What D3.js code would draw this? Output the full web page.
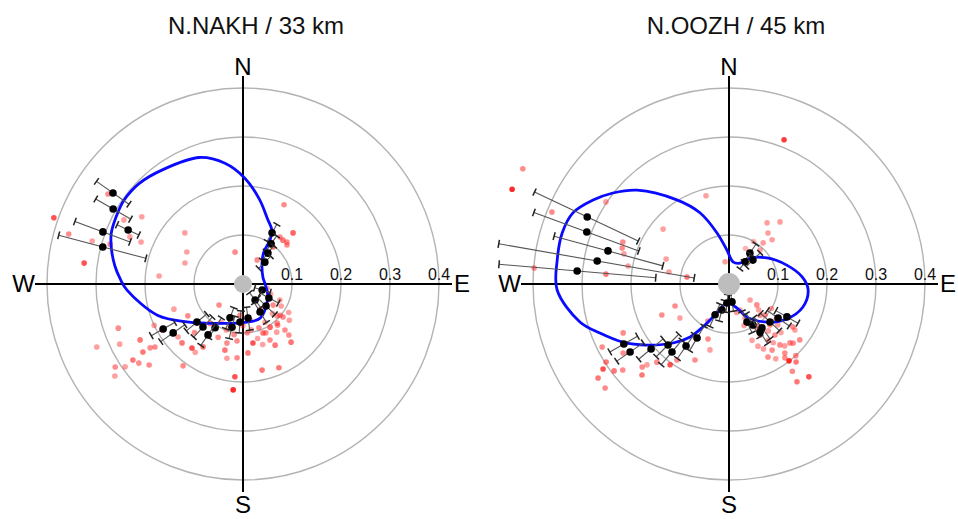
<!DOCTYPE html>
<html>
<head>
<meta charset="utf-8">
<script src="https://cdn.jsdelivr.net/npm/d3@7"></script>
<style>
  body { margin: 0; background: #fff; }
  svg { display: block; font-family: "Liberation Sans", Arial, sans-serif; }
</style>
</head>
<body>
<script>
// ---- data -------------------------------------------------------------
// amplitude rings and compass directions
const ringTicks = [0.1, 0.2, 0.3, 0.4];
const compass = [["N", 0], ["E", 90], ["S", 180], ["W", 270]];
const stationTitles = ["N.NAKH / 33 km", "N.OOZH / 45 km"];

// fitted radiation pattern: [azimuth (deg), amplitude]
const nakhCurve = [
  [1, 0.216], [11, 0.176], [21, 0.141], [28, 0.125], [31.5, 0.106], [33, 0.078],
  [42, 0.058], [71, 0.043], [90, 0.045], [117, 0.057], [153, 0.078], [174, 0.078],
  [207, 0.090], [236, 0.138], [250, 0.186], [267, 0.237], [272, 0.250], [278, 0.264],
  [285, 0.278], [291, 0.288], [298, 0.293], [305, 0.297], [314, 0.295], [325, 0.285],
  [341, 0.273], [351.5, 0.249]
];
const oozhCurve = [
  [10.3, 0.046], [27.6, 0.048], [38.9, 0.068], [55.6, 0.094], [71.9, 0.124],
  [84.5, 0.150], [94.3, 0.162], [107.3, 0.158], [121.1, 0.138], [135, 0.110],
  [151.4, 0.077], [161.6, 0.052], [186, 0.039], [202.5, 0.064], [211.2, 0.102],
  [216.3, 0.134], [223.5, 0.166], [233.4, 0.209], [241.3, 0.247], [249.2, 0.282],
  [255.7, 0.314], [268, 0.351], [278, 0.354], [287, 0.356], [294.5, 0.350],
  [301.7, 0.326], [308.1, 0.301], [315.6, 0.268], [328.2, 0.202], [337.8, 0.157],
  [346.8, 0.107], [356.6, 0.069]
];

// binned measurements with uncertainty: [azimuth, amplitude, low, high]
const nakhBins = [
  [305, 0.324, 0.284, 0.365], [300, 0.306, 0.265, 0.347], [295.2, 0.259, 0.235, 0.284],
  [290.4, 0.305, 0.246, 0.366], [284.8, 0.296, 0.205, 0.389],
  [29.6, 0.120, 0.100, 0.140], [35, 0.100, 0.082, 0.120], [38.9, 0.081, 0.062, 0.100],
  [45, 0.063, 0.045, 0.080], [107.5, 0.041, 0.025, 0.058], [118.3, 0.060, 0.040, 0.082],
  [133.7, 0.065, 0.042, 0.090], [143, 0.041, 0.022, 0.060], [148.7, 0.067, 0.045, 0.092],
  [171.6, 0.070, 0.048, 0.095], [184.5, 0.078, 0.055, 0.100], [194.3, 0.091, 0.068, 0.115],
  [201, 0.074, 0.052, 0.098], [212.5, 0.106, 0.082, 0.130], [214.5, 0.126, 0.100, 0.152],
  [222.9, 0.120, 0.092, 0.148], [230.4, 0.122, 0.096, 0.150], [235, 0.174, 0.145, 0.205],
  [240.6, 0.187, 0.160, 0.215]
];
const oozhBins = [
  [295.3, 0.320, 0.205, 0.439], [290.1, 0.309, 0.196, 0.424], [285.3, 0.256, 0.140, 0.370],
  [279.9, 0.273, 0.072, 0.477], [274.9, 0.311, 0.150, 0.471],
  [240.3, 0.247, 0.215, 0.280], [235.5, 0.245, 0.212, 0.278], [230.2, 0.207, 0.175, 0.240],
  [225, 0.176, 0.145, 0.210], [220, 0.181, 0.150, 0.215], [214.7, 0.154, 0.125, 0.185],
  [210.6, 0.128, 0.100, 0.158], [204.3, 0.069, 0.045, 0.095], [195.1, 0.055, 0.035, 0.078],
  [186, 0.039, 0.022, 0.058], [170.5, 0.037, 0.020, 0.056], [154.7, 0.086, 0.062, 0.110],
  [149.7, 0.097, 0.070, 0.125], [147.1, 0.117, 0.090, 0.145], [143.1, 0.112, 0.085, 0.140],
  [132.8, 0.114, 0.088, 0.140], [124.8, 0.122, 0.095, 0.150], [119.6, 0.136, 0.110, 0.162],
  [34.1, 0.076, 0.055, 0.098], [36, 0.056, 0.038, 0.075], [45, 0.069, 0.050, 0.090]
];

// individual observations: [azimuth, amplitude, weight]
const nakhObs = [
  [289.3, 0.409, 0.8], [303.7, 0.331, 0.5], [298.3, 0.276, 0.4], [303.6, 0.248, 0.4],
  [286, 0.370, 0.5], [285.9, 0.320, 0.4], [292.6, 0.250, 0.4], [292.4, 0.225, 0.4],
  [286.7, 0.283, 0.5], [277.5, 0.327, 0.8], [311.3, 0.158, 0.4], [299.7, 0.132, 0.4],
  [289.9, 0.126, 0.4], [275.4, 0.172, 0.4], [346, 0.067, 0.5], [27.4, 0.182, 0.5],
  [44.4, 0.146, 0.7], [46.3, 0.124, 0.5], [38.2, 0.122, 0.5], [30.3, 0.057, 0.5],
  [39, 0.097, 0.6], [42.3, 0.121, 0.6], [48.4, 0.120, 0.5],
  [246.7, 0.325, 0.4], [241.5, 0.239, 0.6], [235.8, 0.247, 0.6], [235.5, 0.230, 0.5],
  [235.4, 0.273, 0.6], [232.8, 0.267, 0.5], [237, 0.311, 0.5], [234.9, 0.294, 0.4],
  [234.3, 0.322, 0.4], [229.2, 0.253, 0.5], [234.4, 0.221, 0.5], [226, 0.173, 0.6],
  [216.2, 0.207, 0.5], [218.6, 0.167, 0.8], [212.4, 0.152, 0.6], [230.8, 0.171, 0.4],
  [228.8, 0.065, 0.5], [195.2, 0.125, 0.5], [195.3, 0.140, 0.6], [186, 0.117, 0.5],
  [170.4, 0.122, 0.8], [175.9, 0.141, 0.6], [184.6, 0.151, 0.5], [192.2, 0.155, 0.4],
  [167.5, 0.180, 0.6], [156.8, 0.186, 0.6], [185, 0.190, 0.8], [185.3, 0.217, 1.0],
  [152.3, 0.141, 0.6], [147.9, 0.104, 0.7], [138.9, 0.106, 0.5], [129.5, 0.106, 0.5],
  [157.8, 0.108, 0.6], [240.4, 0.190, 0.5], [143, 0.041, 0.4], [146.8, 0.063, 0.5],
  [169, 0.075, 0.5], [185.5, 0.064, 0.5], [197.6, 0.088, 0.5], [113.4, 0.082, 0.4],
  [137.6, 0.127, 0.5], [154.3, 0.127, 0.5], [140.4, 0.154, 0.6], [130, 0.099, 0.5],
  [120, 0.090, 0.4], [125, 0.075, 0.5], [135, 0.085, 0.4], [140, 0.110, 0.5],
  [150, 0.090, 0.4], [160, 0.095, 0.5], [165, 0.115, 0.4], [175, 0.100, 0.5],
  [180, 0.085, 0.4], [190, 0.105, 0.5], [200, 0.100, 0.4], [205, 0.120, 0.5],
  [210, 0.090, 0.4], [220, 0.105, 0.5], [225, 0.140, 0.5], [245, 0.200, 0.4],
  [250, 0.150, 0.4], [215, 0.170, 0.4], [240, 0.130, 0.5], [110, 0.060, 0.4],
  [100, 0.050, 0.4], [250.5, 0.270, 0.5], [244, 0.280, 0.4],
  [128, 0.120, 0.4], [133, 0.095, 0.5], [145, 0.120, 0.4], [155, 0.110, 0.5],
  [162, 0.130, 0.4], [170, 0.095, 0.4], [122, 0.110, 0.4], [138, 0.140, 0.5]
];
const oozhObs = [
  [299.2, 0.482, 0.5], [293.6, 0.483, 1.0], [292.1, 0.390, 0.5], [303.7, 0.302, 0.4],
  [309.8, 0.175, 0.4], [291.6, 0.233, 0.5], [288.6, 0.230, 0.5], [286, 0.223, 0.4],
  [280.1, 0.209, 0.4], [291.6, 0.138, 0.4], [281.3, 0.125, 0.4], [279.5, 0.087, 0.6],
  [274.7, 0.399, 0.5], [274.6, 0.252, 0.6], [345.4, 0.186, 0.4], [39.4, 0.164, 0.4],
  [31.9, 0.147, 0.4], [37.4, 0.131, 0.4], [44.3, 0.126, 0.4], [39.7, 0.109, 0.4],
  [42.4, 0.094, 0.4], [350, 0.046, 0.4], [20.9, 0.315, 0.9],
  [247.8, 0.119, 0.5], [245.2, 0.151, 0.5], [235.2, 0.122, 0.4], [245.2, 0.238, 0.5],
  [243.6, 0.289, 0.5], [236.9, 0.258, 0.5], [237.6, 0.297, 0.6], [236, 0.310, 0.8],
  [232.9, 0.294, 0.6], [234.3, 0.329, 0.6], [231, 0.279, 0.5], [226.3, 0.245, 0.5],
  [223.7, 0.257, 0.6], [225.4, 0.235, 0.4], [216.1, 0.204, 0.8], [214.4, 0.188, 0.5],
  [204.1, 0.170, 0.5], [200.9, 0.120, 0.5], [196.1, 0.140, 0.4], [212.7, 0.128, 0.4],
  [209.6, 0.087, 0.5], [222.7, 0.217, 0.5], [230, 0.330, 0.5],
  [127.3, 0.054, 0.4], [126.9, 0.071, 0.5], [130.7, 0.097, 0.5], [135, 0.118, 0.5],
  [138, 0.140, 0.5], [140.1, 0.162, 0.5], [146.9, 0.161, 0.5], [142.9, 0.189, 0.5],
  [134, 0.173, 0.5], [124.9, 0.164, 0.4], [128.3, 0.184, 0.5], [148.7, 0.122, 0.5],
  [154.8, 0.077, 0.4], [157, 0.058, 0.4], [157.7, 0.124, 0.4], [132.7, 0.178, 0.5],
  [139.3, 0.210, 0.6], [142, 0.199, 1.0], [139.3, 0.250, 0.8], [145.2, 0.243, 0.6],
  [141, 0.181, 0.5], [123.9, 0.157, 0.5], [151.9, 0.169, 0.5], [145, 0.140, 0.4],
  [150, 0.100, 0.4], [135, 0.090, 0.5], [130, 0.130, 0.4], [143, 0.150, 0.4],
  [137, 0.200, 0.5], [160, 0.090, 0.4], [165, 0.060, 0.4], [120, 0.100, 0.4],
  [148, 0.180, 0.4], [155, 0.140, 0.4], [133, 0.145, 0.4], [127, 0.120, 0.4],
  [140, 0.125, 0.4], [146, 0.105, 0.5], [131, 0.080, 0.4], [152, 0.150, 0.4],
  [138, 0.170, 0.4], [144, 0.220, 0.5], [25, 0.080, 0.3], [30, 0.100, 0.3]
];

// ---- drawing ------------------------------------------------------------
const width = 958, height = 519;
const svg = d3.select("body").append("svg")
  .attr("width", width).attr("height", height);

const r = d3.scaleLinear().domain([0, 0.4]).range([0, 196]);
const alpha = d3.scaleLinear().domain([0, 1]).range([0.08, 0.95]);
const rad = a => a * Math.PI / 180;

const panels = [
  { title: stationTitles[0], cx: 243, cy: 284, titleX: 256, hub: 9,
    curve: nakhCurve, bins: nakhBins, obs: nakhObs },
  { title: stationTitles[1], cx: 729, cy: 284, titleX: 736, hub: 11,
    curve: oozhCurve, bins: oozhBins, obs: oozhObs }
];

panels.forEach(p => {
  const g = svg.append("g").attr("transform", `translate(${p.cx},${p.cy})`);
  const pos = (az, v) => [r(v) * Math.sin(rad(az)), -r(v) * Math.cos(rad(az))];

  // amplitude rings
  g.selectAll("circle.ring").data(ringTicks).join("circle")
    .attr("class", "ring").attr("r", d => r(d))
    .attr("fill", "none").attr("stroke", "#b3b3b3").attr("stroke-width", 1.4);

  // compass axes
  const ext = 208;
  g.append("line").attr("x1", -ext).attr("x2", ext + 1).attr("y1", 0).attr("y2", 0)
    .attr("stroke", "#000").attr("stroke-width", 2);
  g.append("line").attr("x1", 0).attr("x2", 0).attr("y1", -ext).attr("y2", ext)
    .attr("stroke", "#000").attr("stroke-width", 2);

  // observations
  g.selectAll("circle.obs").data(p.obs).join("circle")
    .attr("class", "obs")
    .attr("cx", d => pos(d[0], d[1])[0]).attr("cy", d => pos(d[0], d[1])[1])
    .attr("r", 2.8).attr("fill", "#ff2020").attr("fill-opacity", d => alpha(d[2]));

  // fitted pattern
  const line = d3.lineRadial()
    .angle(d => rad(d[0])).radius(d => r(d[1]))
    .curve(d3.curveCatmullRomClosed.alpha(0.5));
  g.append("path").attr("d", line(p.curve))
    .attr("fill", "none").attr("stroke", "#0a0aff").attr("stroke-width", 2.8);

  // uncertainty bars (radial) with end caps
  const cap = 4;
  const bars = g.selectAll("g.bin").data(p.bins).join("g").attr("class", "bin");
  bars.append("line")
    .attr("x1", d => pos(d[0], d[2])[0]).attr("y1", d => pos(d[0], d[2])[1])
    .attr("x2", d => pos(d[0], d[3])[0]).attr("y2", d => pos(d[0], d[3])[1])
    .attr("stroke", "#555").attr("stroke-width", 1.1);
  [2, 3].forEach(k => {
    bars.append("line")
      .attr("x1", d => pos(d[0], d[k])[0] + cap * Math.cos(rad(d[0])))
      .attr("y1", d => pos(d[0], d[k])[1] + cap * Math.sin(rad(d[0])))
      .attr("x2", d => pos(d[0], d[k])[0] - cap * Math.cos(rad(d[0])))
      .attr("y2", d => pos(d[0], d[k])[1] - cap * Math.sin(rad(d[0])))
      .attr("stroke", "#222").attr("stroke-width", 1.5);
  });
  bars.append("circle")
    .attr("cx", d => pos(d[0], d[1])[0]).attr("cy", d => pos(d[0], d[1])[1])
    .attr("r", 3.8).attr("fill", "#000");

  // station hub
  g.append("circle").attr("r", p.hub).attr("fill", "#bdbdbd");

  // ring labels
  g.selectAll("text.tick").data(ringTicks).join("text")
    .attr("class", "tick").attr("x", d => r(d)).attr("y", -4)
    .attr("text-anchor", "middle").attr("font-size", 16).attr("fill", "#111")
    .text(d => d3.format(".1f")(d));

  // compass labels
  const lab = {
    N: { x: 0, y: -209, anchor: "middle" },
    S: { x: 0, y: 229, anchor: "middle" },
    W: { x: -208, y: 8, anchor: "end" },
    E: { x: 211, y: 8, anchor: "start" }
  };
  compass.forEach(([c]) => {
    g.append("text").attr("x", lab[c].x).attr("y", lab[c].y)
      .attr("text-anchor", lab[c].anchor).attr("font-size", 24).attr("fill", "#000")
      .text(c);
  });

  // title
  svg.append("text").attr("x", p.titleX).attr("y", 34)
    .attr("text-anchor", "middle").attr("font-size", 24).attr("fill", "#111")
    .text(p.title);
});
</script>
</body>
</html>
